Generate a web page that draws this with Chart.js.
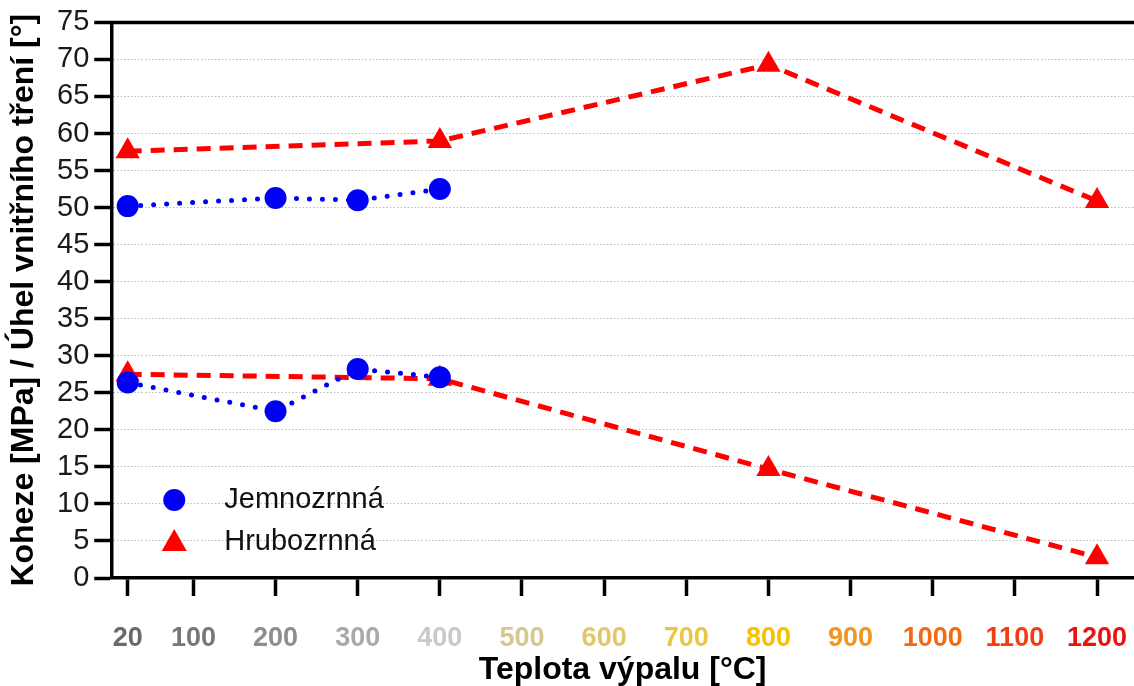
<!DOCTYPE html>
<html>
<head>
<meta charset="utf-8">
<script src="https://cdn.jsdelivr.net/npm/chart.js@4"></script>
<style>
  html, body { margin: 0; padding: 0; background: #fff; }
  #wrap { width: 1134px; height: 686px; }
</style>
</head>
<body>
<div id="wrap"><canvas id="chart" width="1134" height="686"></canvas></div>
<script>
// temperatures on the x axis
const xTicks = [20, 100, 200, 300, 400, 500, 600, 700, 800, 900, 1000, 1100, 1200];
const xTickColors = ['#6a6a6a', '#777777', '#8e8e8e', '#a9a9a9', '#c9c9c9', '#d6c78f', '#e2c76a',
                     '#eac643', '#f7c100', '#f39320', '#f26b12', '#f03d12', '#e81212'];

// fine-grained sample
const fineTemps = [20, 200, 300, 400];
const fineAngle = [50.2, 51.3, 51.0, 52.5];
const fineCohesion = [26.4, 22.5, 28.2, 27.1];

// coarse-grained sample
const coarseTemps = [20, 400, 800, 1200];
const coarseAngle = [57.6, 59.0, 69.3, 50.9];
const coarseCohesion = [27.5, 26.9, 14.7, 2.8];

const BLUE = '#0000f5';
const RED = '#ff0000';
const FONT = 'Liberation Sans';

function pts(xs, ys) {
    return xs.map((x, i) => ({ x: x, y: ys[i] }));
}

const fineStyle = {
    borderColor: BLUE,
    backgroundColor: BLUE,
    borderWidth: 5,
    borderDash: [0, 13],
    borderCapStyle: 'round',
    pointStyle: 'circle',
    pointRadius: 11,
    pointBorderWidth: 0,
    pointBackgroundColor: BLUE,
    order: 0
};
const coarseStyle = {
    borderColor: RED,
    backgroundColor: RED,
    borderWidth: 5,
    borderDash: [14, 9],
    pointStyle: 'triangle',
    pointRadius: 14,
    pointBorderWidth: 0,
    pointBackgroundColor: RED,
    order: 1
};

// legend drawn inside the plot, bottom-left, plus the top frame line
const innerLegend = {
    id: 'innerLegend',
    afterDraw(chart) {
        const { ctx, chartArea } = chart;
        const mx = chartArea.left + 63;
        const tx = chartArea.left + 113;
        const y1 = chartArea.bottom - 78;
        const y2 = chartArea.bottom - 36;
        ctx.save();
        ctx.fillStyle = BLUE;
        ctx.beginPath();
        ctx.arc(mx, y1, 11, 0, Math.PI * 2);
        ctx.fill();
        ctx.fillStyle = RED;
        ctx.beginPath();
        ctx.moveTo(mx, y2 - 13);
        ctx.lineTo(mx + 12.5, y2 + 9);
        ctx.lineTo(mx - 12.5, y2 + 9);
        ctx.closePath();
        ctx.fill();
        ctx.fillStyle = '#111';
        ctx.font = '29px "' + FONT + '"';
        ctx.textBaseline = 'middle';
        ctx.fillText('Jemnozrnná', tx, y1);
        ctx.fillText('Hrubozrnná', tx, y2);
        ctx.strokeStyle = '#000';
        ctx.lineWidth = 3.5;
        ctx.beginPath();
        ctx.moveTo(chartArea.left - 1.75, chartArea.top);
        ctx.lineTo(chart.width, chartArea.top);
        ctx.stroke();
        ctx.restore();
    }
};

new Chart(document.getElementById('chart').getContext('2d'), {
    type: 'line',
    data: {
        datasets: [
            Object.assign({ label: 'Jemnozrnná', data: pts(fineTemps, fineAngle) }, fineStyle),
            Object.assign({ label: 'Hrubozrnná', data: pts(coarseTemps, coarseAngle) }, coarseStyle),
            Object.assign({ label: 'Jemnozrnná', data: pts(fineTemps, fineCohesion) }, fineStyle),
            Object.assign({ label: 'Hrubozrnná', data: pts(coarseTemps, coarseCohesion) }, coarseStyle)
        ]
    },
    options: {
        responsive: false,
        animation: false,
        layout: { autoPadding: false, padding: { top: 5, right: 0, left: 8, bottom: 0 } },
        plugins: {
            legend: { display: false },
            tooltip: { enabled: false }
        },
        scales: {
            x: {
                type: 'linear',
                min: 0,
                max: 1245,
                afterBuildTicks: (scale) => {
                    scale.ticks = xTicks.map(v => ({ value: v }));
                },
                afterFit: (scale) => {
                    scale.paddingRight = 0;
                    scale.paddingLeft = 0;
                },
                border: { display: true, color: '#000', width: 3.5 },
                grid: {
                    drawOnChartArea: false,
                    drawTicks: true,
                    tickLength: 18,
                    tickColor: '#000',
                    tickWidth: 3.5
                },
                ticks: {
                    autoSkip: false,
                    maxRotation: 0,
                    padding: 2,
                    color: (c) => xTickColors[c.index],
                    // blank first line pushes the label down, away from the tick marks
                    callback: (v) => ['', String(v)],
                    font: { family: FONT, size: 27, weight: 'bold', lineHeight: 1.0 }
                },
                title: {
                    display: true,
                    text: 'Teplota výpalu [°C]',
                    color: '#000',
                    font: { family: FONT, size: 32, weight: 'bold', lineHeight: 1.0 },
                    padding: { top: 0, bottom: 0 }
                }
            },
            y: {
                min: 0,
                max: 75,
                ticks: {
                    stepSize: 5,
                    autoSkip: false,
                    padding: 5,
                    color: '#1a1a1a',
                    font: { family: FONT, size: 29 }
                },
                border: { display: true, color: '#000', width: 3.5, dash: [1.5, 2] },
                grid: {
                    color: (c) => (c.tick && (c.tick.value === 0 || c.tick.value === 75)) ? 'rgba(0,0,0,0)' : '#bdbdbd',
                    lineWidth: 1,
                    tickLength: 17,
                    tickColor: '#000',
                    tickWidth: 3.5,
                    tickBorderDash: []
                },
                title: {
                    display: true,
                    text: 'Koheze [MPa] / Úhel vnitřního tření [°]',
                    color: '#000',
                    font: { family: FONT, size: 32, weight: 'bold', lineHeight: 1.0 },
                    padding: { top: 0, bottom: 12 }
                }
            }
        }
    },
    plugins: [innerLegend]
});
</script>
</body>
</html>
